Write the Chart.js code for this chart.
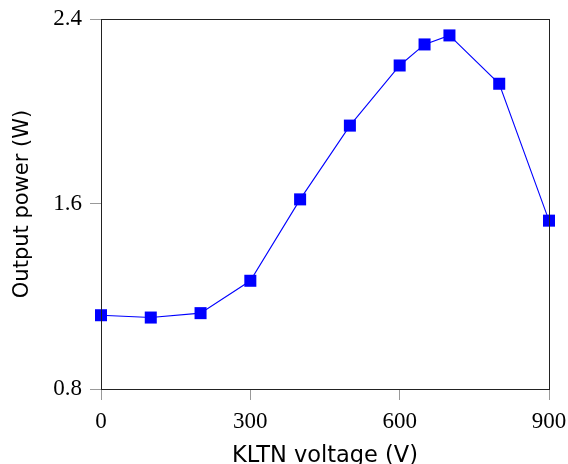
<!DOCTYPE html>
<html>
<head>
<meta charset="utf-8">
<script src="https://cdn.jsdelivr.net/npm/chart.js@4/dist/chart.umd.min.js"></script>
<style>
html,body{margin:0;padding:0;background:#fff;}
#wrap{width:568px;height:464px;position:relative;}
</style>
</head>
<body>
<div id="wrap"><canvas id="c" width="568" height="464"></canvas></div>
<script>
const voltages = [0, 100, 200, 300, 400, 500, 600, 650, 700, 800, 900];
const outputPower = [1.119, 1.109, 1.128, 1.268, 1.620, 1.939, 2.199, 2.290, 2.329, 2.120, 1.528];
const xTicks = [0, 300, 600, 900];
const yTicks = [0.8, 1.6, 2.4];
const xTitle = 'KLTN voltage (V)';
const yTitle = 'Output power (W)';

const boxPlugin = {
  id: 'box',
  afterDraw(chart) {
    const a = chart.chartArea, ctx = chart.ctx;
    ctx.save();
    ctx.strokeStyle = '#222';
    ctx.lineWidth = 1;
    ctx.strokeRect(Math.round(a.left) + 0.5, Math.round(a.top) + 0.5, Math.round(a.right - a.left), Math.round(a.bottom - a.top));
    ctx.restore();
  }
};

new Chart(document.getElementById('c'), {
  type: 'line',
  data: {
    datasets: [{
      data: voltages.map((v, i) => ({x: v, y: outputPower[i]})),
      borderColor: '#0000ff',
      backgroundColor: '#0000ff',
      borderWidth: 1.1,
      pointStyle: 'rect',
      pointRadius: 8.5,
      pointBorderWidth: 0,
      tension: 0,
      clip: false
    }]
  },
  options: {
    responsive: false,
    animation: false,
    layout: {padding: {top: 19, right: 19, left: 0, bottom: 0}},
    plugins: {legend: {display: false}, tooltip: {enabled: false}},
    scales: {
      x: {
        type: 'linear', min: 0, max: 900,
        afterBuildTicks(s) { s.ticks = xTicks.map(v => ({value: v})); },
        afterFit(s) { s.height = 75; s.paddingLeft = 0; s.paddingRight = 0; },
        grid: {drawOnChartArea: false, drawTicks: true, tickLength: 11, tickColor: '#999', color: '#999'},
        border: {color: '#222', width: 1},
        ticks: {font: {family: 'Liberation Serif', size: 23}, color: '#000', padding: 8, maxRotation: 0},
        title: {display: true, text: xTitle, font: {family: 'DejaVu Sans', size: 22.5}, color: '#000', padding: {top: 9, bottom: -6}}
      },
      y: {
        type: 'linear', min: 0.8, max: 2.4,
        afterBuildTicks(s) { s.ticks = yTicks.map(v => ({value: v})); },
        afterFit(s) { s.width = 101; s.paddingTop = 0; s.paddingBottom = 0; },
        grid: {drawOnChartArea: false, drawTicks: true, tickLength: 11, tickColor: '#999', color: '#999'},
        border: {color: '#222', width: 1},
        ticks: {font: {family: 'Liberation Serif', size: 23}, color: '#000', padding: 8, callback: v => v.toFixed(1)},
        title: {display: true, text: yTitle, font: {family: 'DejaVu Sans', size: 21}, color: '#000', padding: {top: 10, bottom: 0}}
      }
    }
  },
  plugins: [boxPlugin]
});
</script>
</body>
</html>
